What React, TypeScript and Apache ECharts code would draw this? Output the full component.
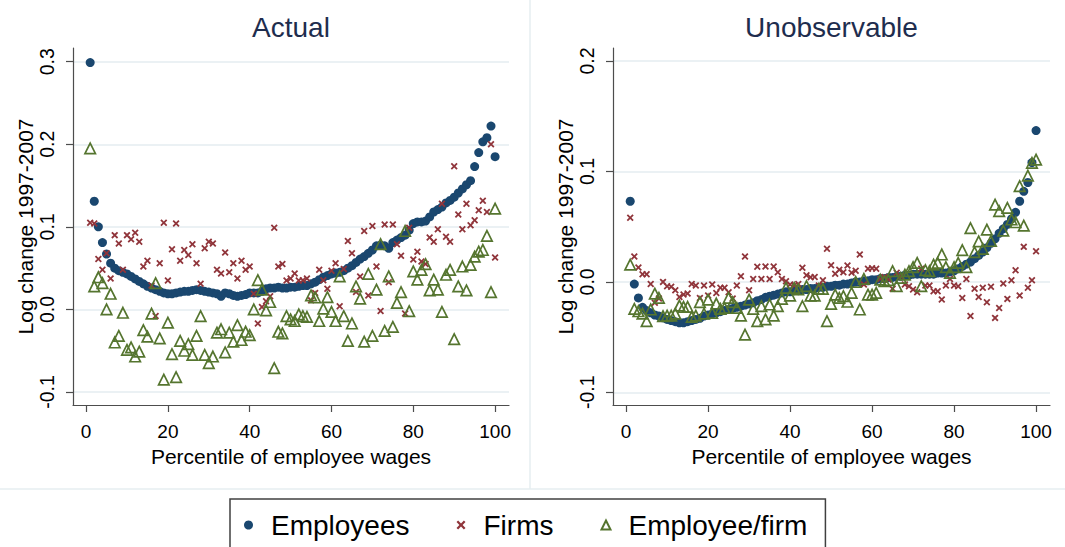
import React, { useEffect, useRef } from 'react';
import * as echarts from 'echarts';

// Percentile of employee wages (x positions of every point)
const PERCENTILES = Array.from({ length: 100 }, (_, i) => i + 1);

// Panel "Actual"
const EMPLOYEES_ACTUAL = [
  0.299, 0.131, 0.100, 0.081, 0.067, 0.056, 0.050, 0.047, 0.045, 0.043,
  0.040, 0.037, 0.034, 0.031, 0.028, 0.026, 0.024, 0.022, 0.020, 0.019,
  0.019, 0.020, 0.021, 0.022, 0.022, 0.023, 0.024, 0.023, 0.022, 0.021,
  0.020, 0.019, 0.016, 0.020, 0.019, 0.017, 0.016, 0.017, 0.018, 0.020,
  0.020, 0.020, 0.022, 0.025, 0.026, 0.026, 0.027, 0.026, 0.026, 0.027,
  0.027, 0.028, 0.029, 0.029, 0.031, 0.033, 0.036, 0.039, 0.041, 0.043,
  0.044, 0.045, 0.047, 0.050, 0.053, 0.057, 0.061, 0.064, 0.068, 0.072,
  0.077, 0.078, 0.077, 0.074, 0.081, 0.084, 0.087, 0.090, 0.096, 0.104,
  0.106, 0.106, 0.107, 0.112, 0.118, 0.121, 0.124, 0.129, 0.132, 0.136,
  0.141, 0.146, 0.151, 0.156, 0.173, 0.190, 0.203, 0.208, 0.222, 0.185,
];
const FIRMS_ACTUAL = [
  0.105, 0.104, 0.061, 0.048, 0.068, 0.0375, 0.090, 0.080, 0.048, 0.090,
  0.085, 0.093, 0.082, 0.052, 0.059, 0.029, -0.008, 0.056, 0.105, 0.035,
  0.073, 0.104, 0.059, 0.072, 0.066, 0.079, 0.056, 0.031, 0.074, 0.082,
  0.080, 0.048, 0.0435, 0.069, 0.045, 0.056, 0.0375, 0.059, 0.048, 0.052,
  0.019, -0.017, 0.003, 0.010, 0.016, 0.099, 0.052, 0.055, 0.035, 0.0375,
  0.0436, 0.035, 0.0355, 0.0375, 0.011, 0.020, 0.048, 0.0355, 0.025, 0.047,
  0.056, 0.004, 0.049, 0.083, 0.068, 0.021, 0.040, 0.095, 0.017, 0.101,
  0.052, -0.002, 0.103, 0.033, 0.103, 0.079, 0.065, -0.005, 0.099, 0.0605,
  0.070, 0.058, 0.055, 0.087, 0.082, 0.097, 0.128, 0.088, 0.082, 0.1735,
  0.115, 0.097, 0.128, 0.102, 0.108, 0.120, 0.1315, 0.118, 0.200, 0.063,
];
const EMPLOYEE_FIRM_ACTUAL = [
  0.195, 0.028, 0.039, 0.032, 0.000, 0.019, -0.040, -0.032, -0.004, -0.049,
  -0.046, -0.057, -0.051, -0.025, -0.033, -0.005, 0.032, -0.035, -0.085, -0.016,
  -0.054, -0.082, -0.038, -0.050, -0.042, -0.055, -0.032, -0.008, -0.055, -0.065,
  -0.057, -0.028, -0.024, -0.052, -0.028, -0.039, -0.019, -0.037, -0.027, -0.031,
  0.000, 0.0355, 0.024, -0.001, 0.009, -0.071, -0.027, -0.029, -0.008, -0.012,
  -0.014, -0.006, -0.008, -0.009, 0.017, 0.0145, -0.014, 0.001, 0.015, -0.003,
  -0.014, 0.040, -0.008, -0.038, -0.017, 0.028, 0.013, -0.039, 0.043, -0.032,
  0.024, 0.079, -0.026, 0.040, -0.021, 0.008, 0.021, 0.095, -0.002, 0.046,
  0.036, 0.048, 0.055, 0.023, 0.036, 0.024, -0.003, 0.042, 0.048, -0.036,
  0.028, 0.052, 0.023, 0.054, 0.064, 0.070, 0.072, 0.089, 0.021, 0.122,
];

// Panel "Unobservable"
const EMPLOYEES_UNOBS = [
  0.073, -0.002, -0.0145, -0.023, -0.026, -0.028, -0.030, -0.031, -0.0325, -0.034,
  -0.035, -0.036, -0.037, -0.037, -0.036, -0.035, -0.034, -0.033, -0.031, -0.030,
  -0.029, -0.028, -0.027, -0.026, -0.025, -0.024, -0.023, -0.022, -0.021, -0.020,
  -0.019, -0.017, -0.016, -0.014, -0.013, -0.012, -0.011, -0.010, -0.009, -0.009,
  -0.008, -0.008, -0.007, -0.007, -0.006, -0.006, -0.005, -0.005, -0.004, -0.004,
  -0.003, -0.003, -0.002, -0.002, -0.001, 0.000, 0.000, 0.001, 0.001, 0.002,
  0.002, 0.003, 0.003, 0.004, 0.004, 0.005, 0.005, 0.006, 0.006, 0.007,
  0.007, 0.007, 0.007, 0.007, 0.007, 0.008, 0.008, 0.008, 0.009, 0.010,
  0.012, 0.014, 0.016, 0.018, 0.021, 0.024, 0.027, 0.031, 0.035, 0.039,
  0.044, 0.048, 0.052, 0.057, 0.063, 0.073, 0.082, 0.090, 0.108, 0.137,
];
const FIRMS_UNOBS = [
  0.058, 0.023, 0.013, 0.007, 0.007, -0.002, -0.019, -0.015, 0.000, -0.004,
  -0.0045, -0.0075, -0.0136, -0.0115, -0.0106, -0.002, -0.0033, -0.0145, -0.0033, -0.0124,
  -0.0024, -0.010, -0.0054, -0.0054, -0.0094, -0.015, -0.0033, 0.005, 0.023, -0.0075,
  0.0027, 0.0136, 0.0027, 0.014, 0.0027, 0.014, 0.0088, 0.0027, 0.0006, -0.0024,
  -0.0033, -0.002, 0.0127, 0.006, 0.0042, 0.0045, -0.0033, 0.0015, 0.030, 0.015,
  0.0073, 0.011, 0.0088, 0.0148, 0.0082, 0.010, 0.0248, -0.0024, 0.0118, 0.0124,
  0.0118, 0.0027, 0.0045, 0.0021, -0.0063, 0.0082, 0.0051, -0.0024, -0.0039, -0.0069,
  -0.0094, 0.0118, -0.0033, -0.0033, -0.0085, -0.0085, -0.016, -0.0033, 0.0027, -0.0033,
  -0.0039, -0.0145, 0.0027, -0.031, -0.0063, -0.0136, -0.0054, -0.0184, -0.0045, -0.0326,
  -0.0236, -0.0015, -0.0154, 0.0015, 0.0106, -0.0124, 0.0317, -0.0054, 0.0015, 0.0278,
];
const EMPLOYEE_FIRM_UNOBS = [
  0.0157, -0.0245, -0.0266, -0.0287, -0.0356, -0.025, -0.0106, -0.0145, -0.031, -0.0305,
  -0.0305, -0.0287, -0.0214, -0.0226, -0.0226, -0.0317, -0.0305, -0.0184, -0.0287, -0.016,
  -0.028, -0.0196, -0.0245, -0.0236, -0.0145, -0.0184, -0.0236, -0.0305, -0.0477, -0.016,
  -0.0245, -0.0356, -0.022, -0.034, -0.0205, -0.0305, -0.022, -0.0154, -0.0054, -0.0124,
  -0.0054, -0.0069, -0.022, -0.0039, -0.0124, -0.0124, -0.0063, -0.0063, -0.0356, -0.02,
  -0.0115, -0.0145, -0.013, -0.018, -0.01, 0.000, -0.025, 0.0027, -0.0115, -0.0115,
  -0.01, 0.0021, 0.0006, 0.0015, 0.0097, -0.0039, 0.0036, 0.0066, 0.0097, 0.0133,
  0.0172, -0.0039, 0.0106, 0.0097, 0.0157, 0.0172, 0.0248, 0.0133, 0.0082, 0.0133,
  0.0172, 0.0287, 0.0133, 0.0486, 0.0269, 0.0366, 0.0299, 0.0474, 0.037, 0.070,
  0.064, 0.0465, 0.067, 0.0565, 0.054, 0.0867, 0.051, 0.0963, 0.1078, 0.1108,
];

const PANEL_TITLES = ['Actual', 'Unobservable'];
const SERIES_NAMES = ['Employees', 'Firms', 'Employee/firm'];
const X_TICKS = [0, 20, 40, 60, 80, 100];
const Y_TICKS_ACTUAL = [-0.1, 0, 0.1, 0.2, 0.3];
const Y_TICKS_UNOBS = [-0.1, 0, 0.1, 0.2];
const X_TITLE = 'Percentile of employee wages';
const Y_TITLE = 'Log change 1997-2007';

const FONT = '"Liberation Sans", Arial, Helvetica, sans-serif';
const NAVY = '#1a476f';
const MAROON = '#90353b';
const GREEN = '#55752f';
const AXIS = '#4d4d4d';
const GRIDLINE = '#e5edf1';
const CROSS =
  'path://M0,1.8L1.8,0L5,3.2L8.2,0L10,1.8L6.8,5L10,8.2L8.2,10L5,6.8L1.8,10L0,8.2L3.2,5Z';

const pairs = (vals: number[]) => PERCENTILES.map((p, i) => [p, vals[i]]);

function buildOption() {
  const grids = [
    { left: 73, top: 48, width: 436, height: 357 },
    { left: 613, top: 48, width: 437, height: 357 },
  ];
  const yRanges = [
    { min: -0.1157, max: 0.3166, ticks: Y_TICKS_ACTUAL },
    { min: -0.1115, max: 0.2118, ticks: Y_TICKS_UNOBS },
  ];
  const xAxis = grids.map((_, i) => ({
    type: 'value',
    gridIndex: i,
    min: -3.2,
    max: 103.4,
    name: X_TITLE,
    nameLocation: 'middle',
    nameGap: 36,
    nameTextStyle: { fontSize: 21, color: '#000', fontFamily: FONT },
    axisLine: { show: true, onZero: false, lineStyle: { color: AXIS, width: 1.2 } },
    axisTick: { show: true, inside: false, length: 7, customValues: X_TICKS, lineStyle: { color: AXIS, width: 1.2 } },
    axisLabel: { customValues: X_TICKS, margin: 17, fontSize: 19, color: '#000', fontFamily: FONT },
    splitLine: { show: false },
  }));
  const yAxis = grids.map((_, i) => ({
    type: 'value',
    gridIndex: i,
    min: yRanges[i].min,
    max: yRanges[i].max,
    name: Y_TITLE,
    nameLocation: 'middle',
    nameRotate: 90,
    nameGap: 37,
    nameTextStyle: { fontSize: 21, color: '#000', fontFamily: FONT },
    axisLine: { show: true, onZero: false, lineStyle: { color: AXIS, width: 1.2 } },
    axisTick: { show: true, inside: false, length: 7, customValues: yRanges[i].ticks, lineStyle: { color: AXIS, width: 1.2 } },
    axisLabel: {
      customValues: yRanges[i].ticks,
      rotate: 90,
      margin: 16,
      fontSize: 19.5,
      color: '#000',
      fontFamily: FONT,
      formatter: (v: number) => v.toFixed(1),
    },
    splitLine: { show: true, lineStyle: { color: GRIDLINE, width: 1.5 } },
  }));

  const panels = [
    [EMPLOYEES_ACTUAL, FIRMS_ACTUAL, EMPLOYEE_FIRM_ACTUAL],
    [EMPLOYEES_UNOBS, FIRMS_UNOBS, EMPLOYEE_FIRM_UNOBS],
  ];
  const series: any[] = [];
  panels.forEach((vals, i) => {
    series.push({
      type: 'scatter',
      name: SERIES_NAMES[0],
      xAxisIndex: i,
      yAxisIndex: i,
      symbol: 'circle',
      symbolSize: 9,
      itemStyle: { color: NAVY, opacity: 1 },
      data: pairs(vals[0]),
    });
    series.push({
      type: 'scatter',
      name: SERIES_NAMES[1],
      xAxisIndex: i,
      yAxisIndex: i,
      symbol: CROSS,
      symbolSize: 7,
      itemStyle: { color: MAROON, opacity: 1 },
      data: pairs(vals[1]),
    });
    series.push({
      type: 'scatter',
      name: SERIES_NAMES[2],
      xAxisIndex: i,
      yAxisIndex: i,
      symbol: 'triangle',
      symbolSize: 10.5,
      itemStyle: { color: 'rgba(255,255,255,0)', borderColor: GREEN, borderWidth: 1.7, opacity: 1 },
      data: pairs(vals[2]),
    });
  });

  const titleCenters = grids.map((g) => g.left + g.width / 2);

  return {
    animation: false,
    backgroundColor: '#ffffff',
    grid: grids,
    xAxis,
    yAxis,
    series,
    legend: {
      left: 230,
      top: 499,
      orient: 'horizontal',
      itemWidth: 9,
      itemHeight: 9,
      itemGap: 47,
      padding: [12, 18, 12, 14],
      borderColor: '#404040',
      borderWidth: 1.5,
      selectedMode: false,
      textStyle: { fontSize: 28, color: '#000', fontFamily: FONT, padding: [0, 0, 0, 13] },
      data: [
        { name: SERIES_NAMES[0], icon: 'circle' },
        { name: SERIES_NAMES[1], icon: CROSS },
        { name: SERIES_NAMES[2], icon: 'triangle' },
      ],
    },
    graphic: [
      { type: 'line', silent: true, shape: { x1: 0, y1: 489, x2: 1065, y2: 489 }, style: { stroke: '#e6eef1', lineWidth: 1.5 } },
      { type: 'line', silent: true, shape: { x1: 530, y1: 0, x2: 530, y2: 489 }, style: { stroke: '#e6eef1', lineWidth: 1.5 } },
      ...PANEL_TITLES.map((t, i) => ({
        type: 'text',
        x: titleCenters[i],
        y: 27,
        silent: true,
        style: {
          text: t,
          fill: '#1e2d4e',
          font: `28px ${FONT}`,
          align: 'center',
          verticalAlign: 'middle',
          textAlign: 'center',
          textVerticalAlign: 'middle',
        },
      })),
    ],
  };
}

export default function App() {
  const ref = useRef<HTMLDivElement>(null);
  useEffect(() => {
    if (!ref.current) return;
    const chart = echarts.init(ref.current, undefined, { renderer: 'svg' });
    chart.setOption(buildOption() as any);
    return () => chart.dispose();
  }, []);
  return (
    <div
      ref={ref}
      style={{ position: 'fixed', left: 0, top: 0, width: 1065, height: 547, background: '#fff' }}
    />
  );
}
